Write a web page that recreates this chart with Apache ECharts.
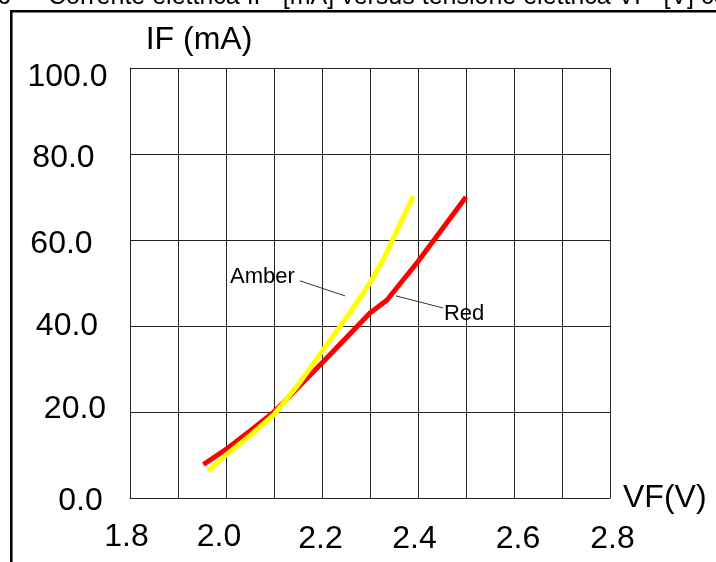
<!DOCTYPE html>
<html><head><meta charset="utf-8">
<script src="https://cdn.jsdelivr.net/npm/echarts@6/dist/echarts.min.js"></script>
<style>html,body{margin:0;padding:0;background:#fff}#c{width:716px;height:562px}</style>
</head><body><div id="c"></div>
<script>
// ---- data ----
const xTickLabels = ['1.8', '2.0', '2.2', '2.4', '2.6', '2.8'];
const yTickLabels = ['0.0', '20.0', '40.0', '60.0', '80.0', '100.0'];
const seriesNames = ['Red', 'Amber'];
const redVF = [1.953, 2.0, 2.05, 2.1, 2.2, 2.25, 2.3, 2.335, 2.4, 2.5];
const redIF = [7.8, 11.3, 15.6, 20.0, 31.4, 37.2, 43.0, 46.0, 55.0, 70.0];
const amberVF = [1.963, 2.0, 2.05, 2.1, 2.15, 2.2, 2.25, 2.3, 2.33, 2.39];
const amberIF = [6.3, 10.0, 14.5, 19.4, 26.3, 34.1, 41.8, 50.0, 56.0, 70.2];
// annotation anchors in data units: [labelVF, labelIF, leaderFromVF, leaderFromIF, leaderToVF, leaderToIF]
const amberNote = [2.076, 51.4, 2.154, 50.5, 2.248, 47.0];
const redNote = [2.496, 42.9, 2.452, 44.2, 2.354, 47.0];
const titleText = 'Corrente elettrica IF  [mA] versus tensione elettrica VF  [V] con LED';

// ---- styling ----
const FONT = '"Liberation Sans", Arial, sans-serif';
const xOff = [[-3.5, 0], [-7, 0], [-1.5, 5], [-3.5, 5], [4, 5], [2.5, 5]];
const yOff = [[13.5, 3.5], [8, -2.5], [0, 0], [-5.5, 4], [-3.5, 4], [0.5, 9]];

function pad(dx, dy, middle) {
  const t = middle ? Math.max(0, 2 * dy) : Math.max(0, dy);
  const b = middle ? Math.max(0, -2 * dy) : 0;
  return [t, Math.max(0, -2 * dx), b, Math.max(0, 2 * dx)];
}
const xRich = {}, yRich = {};
xTickLabels.forEach((l, i) => {
  xRich['x' + i] = { fontSize: 32, fontFamily: FONT, color: '#000', lineHeight: 32, padding: pad(xOff[i][0], xOff[i][1], false) };
});
yTickLabels.forEach((l, i) => {
  yRich['y' + i] = { fontSize: 32, fontFamily: FONT, color: '#000', lineHeight: 32, padding: pad(yOff[i][0], yOff[i][1], true) };
});

const pairs = (xs, ys) => xs.map((x, i) => [x, ys[i]]);
const gridColor = '#222';

const chart = echarts.init(document.getElementById('c'), null, { renderer: 'canvas' });
chart.setOption({
  animation: false,
  backgroundColor: '#fff',
  grid: { left: 130, right: 106, top: 68, bottom: 64, containLabel: false },
  xAxis: {
    type: 'value', min: 1.8, max: 2.8, interval: 0.1,
    name: 'VF(V)', nameLocation: 'end', nameGap: 13,
    nameTextStyle: { fontSize: 32, fontFamily: FONT, color: '#000', align: 'left', verticalAlign: 'middle', padding: [0, 0, 20, 0] },
    axisLine: { show: true, lineStyle: { color: gridColor, width: 1 } },
    axisTick: { show: false },
    splitLine: { show: true, lineStyle: { color: gridColor, width: 1 } },
    axisLabel: {
      margin: 23, showMinLabel: true, showMaxLabel: true, rich: xRich,
      formatter: v => {
        const k = Math.round(v * 10);
        if (k % 2 !== 0) return '';
        const i = (k - 18) / 2;
        return (i >= 0 && i < xTickLabels.length) ? '{x' + i + '|' + xTickLabels[i] + '}' : '';
      }
    }
  },
  yAxis: {
    type: 'value', min: 0, max: 100, interval: 20,
    name: 'IF (mA)', nameLocation: 'end', nameGap: 28,
    nameTextStyle: { fontSize: 32, fontFamily: FONT, color: '#000', align: 'center', verticalAlign: 'middle', padding: [0, 0, 0, 138] },
    axisLine: { show: true, lineStyle: { color: gridColor, width: 1 } },
    axisTick: { show: false },
    splitLine: { show: true, lineStyle: { color: gridColor, width: 1 } },
    axisLabel: {
      margin: 63, align: 'center', rich: yRich,
      formatter: v => {
        const i = Math.round(v / 20);
        return '{y' + i + '|' + yTickLabels[i] + '}';
      }
    }
  },
  series: [
    { name: seriesNames[0], type: 'line', data: pairs(redVF, redIF), showSymbol: false, symbol: 'none', smooth: false,
      lineStyle: { color: '#ff0000', width: 5, cap: 'butt', join: 'round' }, z: 3 },
    { name: seriesNames[1], type: 'line', data: pairs(amberVF, amberIF), showSymbol: false, symbol: 'none', smooth: false,
      lineStyle: { color: '#ffff00', width: 5, cap: 'butt', join: 'round' }, z: 4 }
  ]
});

const P = (x, y) => chart.convertToPixel({ gridIndex: 0 }, [x, y]);
function note(name, n) {
  const c = P(n[0], n[1]), a = P(n[2], n[3]), b = P(n[4], n[5]);
  return [
    { type: 'text', z: 10, style: { text: name, x: c[0], y: c[1], align: 'center', verticalAlign: 'middle', font: '22px ' + FONT, fill: '#000' } },
    { type: 'line', z: 10, shape: { x1: a[0], y1: a[1], x2: b[0], y2: b[1] }, style: { stroke: '#333', lineWidth: 1 } }
  ];
}
chart.setOption({
  graphic: [
    { type: 'rect', z: 20, shape: { x: 11.3, y: 11.2, width: 1000, height: 1000 }, style: { fill: 'none', stroke: '#000', lineWidth: 2.5 } },
    { type: 'text', z: 20, style: { text: '6', x: -3, y: 10, verticalAlign: 'bottom', font: '25px ' + FONT, fill: '#000' } },
    { type: 'text', z: 20, style: { text: titleText, x: 48, y: 10, verticalAlign: 'bottom', font: '25px ' + FONT, fill: '#000' } },
    ...note(seriesNames[1], amberNote),
    ...note(seriesNames[0], redNote)
  ]
});
</script></body></html>
